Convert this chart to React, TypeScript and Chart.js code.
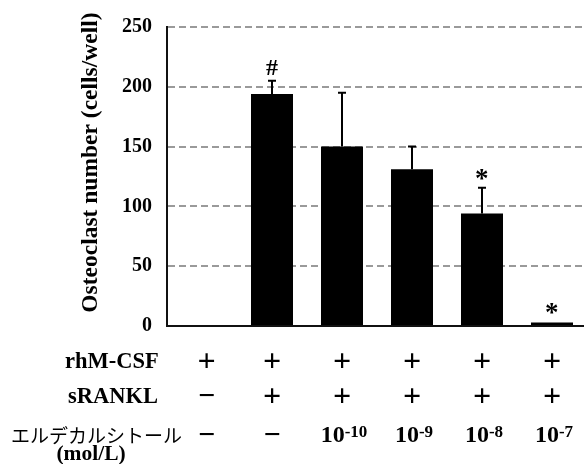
import React, { useEffect, useRef } from 'react';
import { Chart, registerables } from 'chart.js';

Chart.register(...registerables);

// ---- data ----
const categories = ['M-CSF', 'M-CSF+RANKL', 'ED 10^-10', 'ED 10^-9', 'ED 10^-8', 'ED 10^-7'];
const osteoclastMeans = [0, 194, 150, 131, 94, 3];
const osteoclastSD = [0, 11, 45, 19, 21.5, 0];
const significance = ['', '#', '', '', '*', '*'];
const yTickValues = [0, 50, 100, 150, 200, 250];
const rhmcsfRow = ['+', '+', '+', '+', '+', '+'];
const sranklRow = ['−', '+', '+', '+', '+', '+'];
const eldecalcitolExponent = ['', '', '-10', '-9', '-8', '-7']; // '' = not added
const yTitle = 'Osteoclast number (cells/well)';
const rowLabels = ['rhM-CSF', 'sRANKL', 'エルデカルシトール', '(mol/L)'];

const SERIF = '"Liberation Serif", "Times New Roman", serif';
const CJK = '"Noto Sans CJK JP", sans-serif';

function textAt(
  ctx: CanvasRenderingContext2D,
  text: string,
  cx: number,
  cy: number,
  font: string,
  align: 'center' | 'left' | 'right' = 'center'
) {
  ctx.font = font;
  ctx.textBaseline = 'alphabetic';
  ctx.textAlign = 'left';
  const m = ctx.measureText(text);
  let x: number;
  if (align === 'center') x = cx - (m.actualBoundingBoxRight - m.actualBoundingBoxLeft) / 2;
  else if (align === 'left') x = cx + m.actualBoundingBoxLeft;
  else x = cx - m.actualBoundingBoxRight;
  const y = cy + (m.actualBoundingBoxAscent - m.actualBoundingBoxDescent) / 2;
  ctx.fillText(text, x, y);
}

const signFont = (s: string) => (s === '+' ? `bold 32px ${SERIF}` : `bold 30px ${SERIF}`);

const annotatePlugin = {
  id: 'annotate',
  afterDatasetsDraw(chart: any) {
    const ctx: CanvasRenderingContext2D = chart.ctx;
    const yScale = chart.scales.y;
    const xScale = chart.scales.x;
    const meta = chart.getDatasetMeta(0);
    ctx.save();
    ctx.fillStyle = '#000';
    ctx.strokeStyle = '#000';
    ctx.lineWidth = 2;

    // error bars (upper only)
    osteoclastSD.forEach((sd, i) => {
      if (!sd) return;
      const x = Math.round(meta.data[i].x);
      const y0 = yScale.getPixelForValue(osteoclastMeans[i]);
      const y1 = yScale.getPixelForValue(osteoclastMeans[i] + sd);
      ctx.beginPath();
      ctx.moveTo(x, y0);
      ctx.lineTo(x, y1);
      ctx.moveTo(x - 4, y1);
      ctx.lineTo(x + 4, y1);
      ctx.stroke();
    });

    // significance marks
    significance.forEach((s, i) => {
      if (!s) return;
      const x = meta.data[i].x;
      const top = yScale.getPixelForValue(osteoclastMeans[i] + osteoclastSD[i]);
      const font = s === '#' ? `bold 24px ${SERIF}` : `bold 27px ${SERIF}`;
      textAt(ctx, s, x, top - 13.5, font);
    });

    // y axis title
    ctx.save();
    ctx.translate(91, 162.5);
    ctx.rotate(-Math.PI / 2);
    textAt(ctx, yTitle, 0, 0, `bold 23.5px ${SERIF}`);
    ctx.restore();

    // treatment table below the axis
    const rowY = [360, 395.5, 434];
    textAt(ctx, rowLabels[0], 158, rowY[0], `bold 22.5px ${SERIF}`, 'right');
    textAt(ctx, rowLabels[1], 158, rowY[1], `bold 22.5px ${SERIF}`, 'right');
    textAt(ctx, rowLabels[2], 12, 435, `19px ${CJK}`, 'left');
    textAt(ctx, rowLabels[3], 91, 455, `bold 21.5px ${SERIF}`);

    categories.forEach((_, i) => {
      const cx = xScale.getPixelForValue(i) + (i === 0 ? 4.5 : 0);
      textAt(ctx, rhmcsfRow[i], cx, rowY[0], signFont(rhmcsfRow[i]));
      textAt(ctx, sranklRow[i], cx, rowY[1], signFont(sranklRow[i]));
      const exp = eldecalcitolExponent[i];
      if (!exp) {
        textAt(ctx, '−', cx, rowY[2], signFont('−'));
      } else {
        const mainFont = `bold 24px ${SERIF}`;
        const supFont = `bold 17px ${SERIF}`;
        ctx.textAlign = 'left';
        ctx.textBaseline = 'alphabetic';
        ctx.font = mainFont;
        const m10 = ctx.measureText('10');
        ctx.font = supFont;
        const ms = ctx.measureText(exp);
        const msDigits = ctx.measureText('0');
        const total = m10.width + ms.width;
        const startX = cx - total / 2 + 2;
        const baseline = rowY[2] + m10.actualBoundingBoxAscent / 2;
        const top10 = baseline - m10.actualBoundingBoxAscent;
        ctx.font = mainFont;
        ctx.fillText('10', startX, baseline);
        ctx.font = supFont;
        ctx.fillText(exp, startX + m10.width, top10 + msDigits.actualBoundingBoxAscent - 1);
      }
    });
    ctx.restore();
  },
};

export default function App() {
  const canvasRef = useRef<HTMLCanvasElement | null>(null);

  useEffect(() => {
    if (!canvasRef.current) return;
    const chart = new Chart(canvasRef.current, {
      type: 'bar',
      data: {
        labels: categories,
        datasets: [
          {
            data: osteoclastMeans,
            backgroundColor: '#000',
            borderWidth: 0,
            barPercentage: 0.6,
            categoryPercentage: 1,
          },
        ],
      },
      options: {
        animation: false,
        responsive: false,
        events: [],
        layout: { padding: { top: 20, bottom: 138, left: 0, right: 0 } },
        plugins: { legend: { display: false }, tooltip: { enabled: false }, title: { display: false } },
        scales: {
          x: {
            grid: { display: false, drawTicks: false },
            ticks: { display: false },
            border: { display: true, color: '#111', width: 2 },
            afterFit: (scale: any) => {
              scale.height = 0;
            },
          },
          y: {
            min: 0,
            max: 250,
            afterBuildTicks: (scale: any) => {
              scale.ticks = yTickValues.map((v) => ({ value: v }));
            },
            afterFit: (scale: any) => {
              scale.width = 167;
            },
            grid: {
              drawTicks: false,
              lineWidth: 2,
              color: (c: any) => (c.tick && c.tick.value === 0 ? 'rgba(0,0,0,0)' : '#9a9a9a'),
            },
            border: { display: true, color: '#111', width: 2, dash: [7, 4] },
            ticks: {
              padding: 15,
              color: '#000',
              font: { family: SERIF, size: 20, weight: 'bold' },
            },
          },
        },
      },
      plugins: [annotatePlugin],
    } as any);
    return () => chart.destroy();
  }, []);

  return (
    <div
      style={{
        position: 'fixed',
        left: 0,
        top: 0,
        width: 584,
        height: 464,
        overflow: 'hidden',
        background: '#fff',
      }}
    >
      <canvas ref={canvasRef} width={587} height={464} style={{ display: 'block' }} />
    </div>
  );
}
